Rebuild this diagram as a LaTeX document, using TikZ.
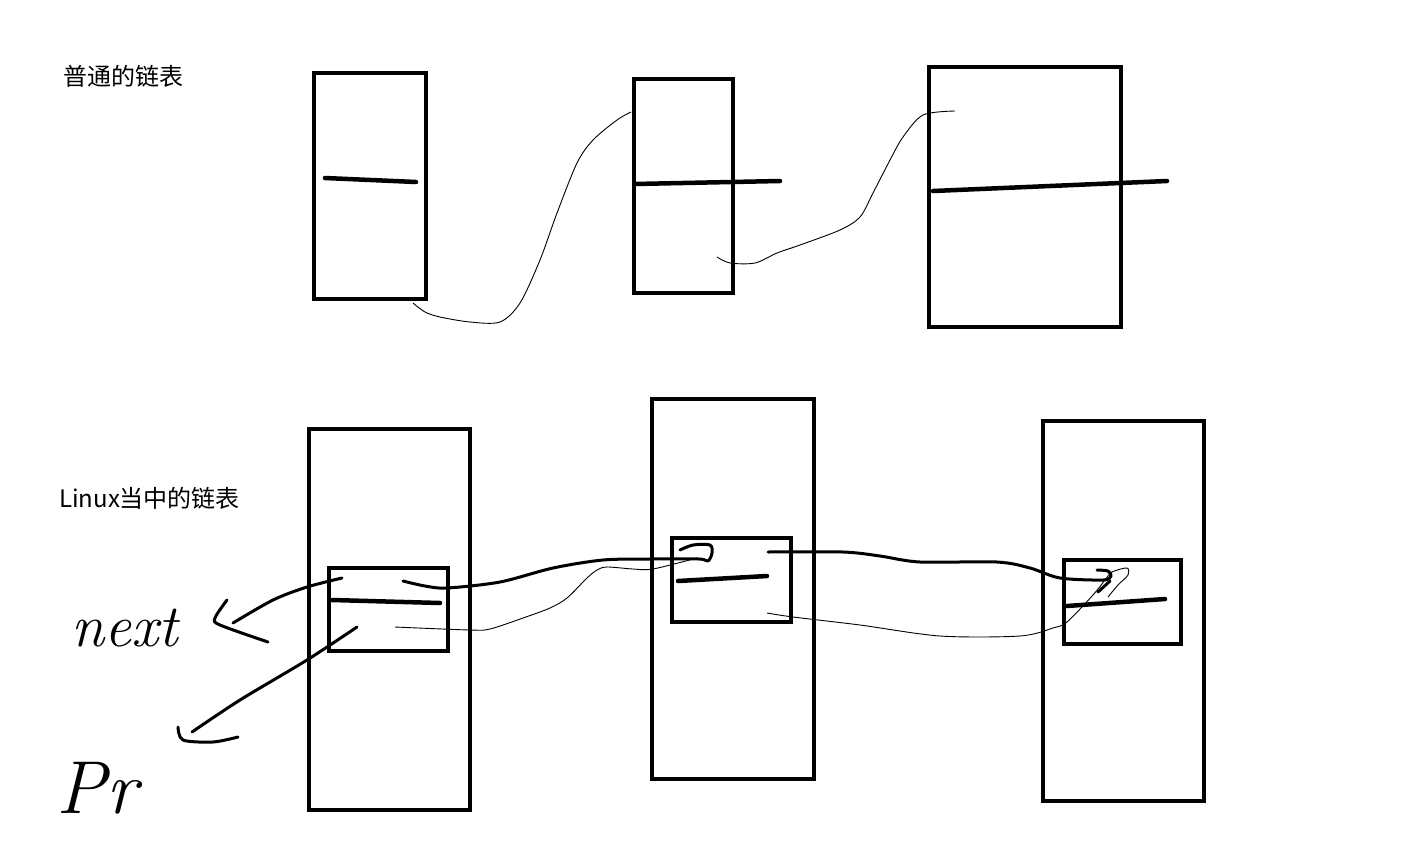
\documentclass[tikz,border=0pt]{standalone}
\usepackage{fontspec}
\newfontfamily\cjk{Noto Sans CJK SC}
\begin{document}
\begin{tikzpicture}[x=1pt,y=-1pt,
  box/.style={draw, rectangle, line width=4.5pt, inner sep=0pt, minimum width=#1},
  divider/.style={line width=4.5pt, line cap=round},
  thinlink/.style={line width=0.9pt},
  thicklink/.style={line width=3pt, line cap=round, line join=round},
  title/.style={anchor=west, inner sep=0pt, font=\cjk\fontsize{24}{28}\selectfont},
  hand/.style={inner sep=0pt, font=\itshape\fontsize{#1}{#1}\selectfont}
]
\path[use as bounding box, fill=white] (0,0) rectangle (1423,846);

% titles
\node[title] (t1) at (63,76) {普通的链表};
\node[title] (t2) at (59,498) {Linux当中的链表};

% ordinary list
\node[box=112pt, minimum height=226pt] (n1) at (370,186) {};
\node[box=99pt,  minimum height=214pt] (n2) at (683.5,186) {};
\node[box=192pt, minimum height=260pt] (n3) at (1025,197) {};
\draw[divider] (325,178) -- (416,182);
\draw[divider] (634,184) -- (780,181);
\draw[divider] (933,191) -- (1167,181);

\draw[thinlink] plot[smooth, tension=0.5] coordinates {(413,303) (425,312) (440,317) (470,322) (500,322) (520,303) (540,260) (557,213) (577,163) (593,140) (617,120) (631,112)};
\draw[thinlink] plot[smooth, tension=0.5] coordinates {(717,257) (730,263) (755,263) (777,253) (800,245) (840,230) (860,217) (873,193) (890,160) (903,137) (923,115) (955,111)};

% linux list
\node[box=161pt, minimum height=381pt] (A) at (389.5,619.5) {};
\node[box=162pt, minimum height=380pt] (B) at (733,589) {};
\node[box=161pt, minimum height=380pt] (C) at (1123.5,611) {};
\node[box=119pt, minimum height=83pt] (a) at (388.5,609.5) {};
\node[box=119pt, minimum height=84pt] (b) at (731.5,580) {};
\node[box=117pt, minimum height=84pt] (c) at (1122.5,602) {};
\draw[divider] (332,600) -- (440,603);
\draw[divider] (678,581) -- (767,576);
\draw[divider] (1067,606) -- (1165,599);

% next links
\draw[thicklink] plot[smooth, tension=0.5] coordinates {(403,581) (425,586) (447,588) (500,582) (553,568) (603,560) (650,559) (699,559) (708,561) (712,553) (710,545) (693,545) (680,550)};
\draw[thicklink] plot[smooth, tension=0.5] coordinates {(768,552) (843,552) (880,556) (920,562) (997,562) (1030,568) (1060,578) (1103,580) (1111,576) (1108,571) (1097,570)};
\draw[thicklink] (1110,581) -- (1098,592);

% prev links
\draw[thinlink] plot[smooth, tension=0.5] coordinates {(697,558) (653,569) (633,569) (607,567) (597,570) (587,578) (567,598) (550,608) (523,618) (490,629) (470,630) (395,627)};
\draw[thinlink] plot[smooth, tension=0.5] coordinates {(767,613) (793,617) (860,625) (940,636) (1020,636) (1053,628) (1067,622) (1093,595) (1105,580) (1112,572) (1127,568) (1128,575) (1118,585) (1108,597)};

% handwritten next / prev
\draw[thicklink] plot[smooth, tension=0.5] coordinates {(342,578) (307,587) (273,600) (233,623)};
\draw[thicklink] plot[smooth, tension=0.5] coordinates {(227,600) (215,618) (220,625) (268,642)};
\node[hand=60] (nx) at (125,628) {next};
\draw[thicklink] plot[smooth, tension=0.5] coordinates {(357,627) (307,660) (240,700) (192,732)};
\draw[thicklink] plot[smooth, tension=0.5] coordinates {(178,727) (183,740) (213,742) (238,737)};
\node[hand=75] (pr) at (97,788) {Pr};
\end{tikzpicture}
\end{document}
